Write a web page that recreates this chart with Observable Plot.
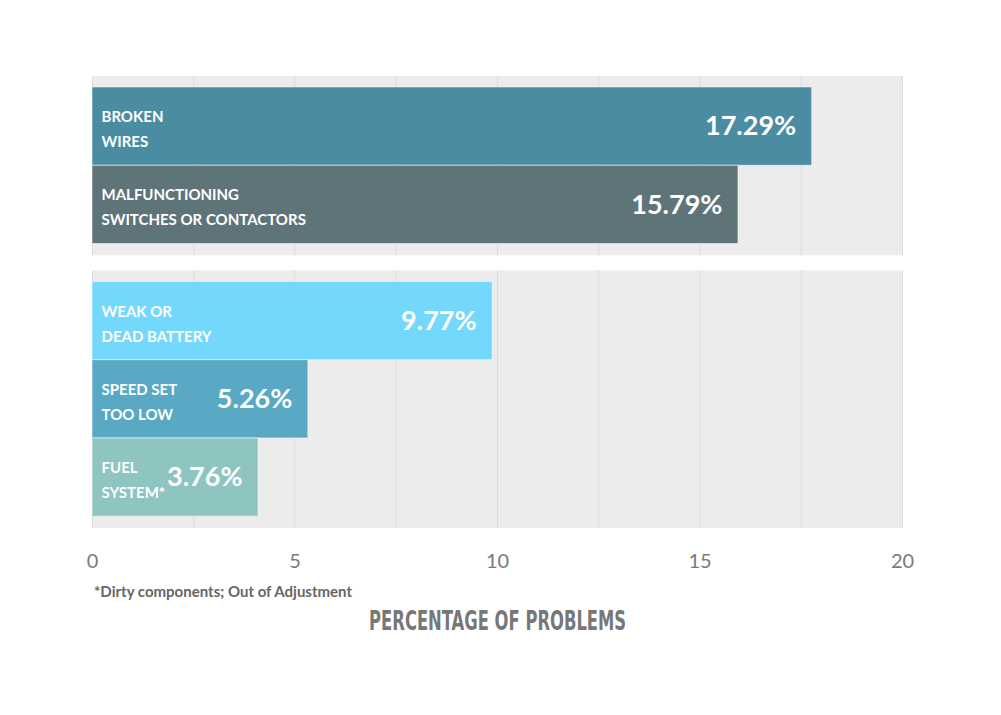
<!DOCTYPE html>
<html>
<head>
<meta charset="utf-8">
<script src="https://cdn.jsdelivr.net/npm/d3@7"></script>
<script src="https://cdn.jsdelivr.net/npm/@observablehq/plot@0.6"></script>
<style>
  html, body { margin: 0; padding: 0; background: #ffffff; }
  #wrap { position: relative; width: 1001px; height: 715px; overflow: hidden; background: #fff; }
  #chart svg { display: block; }
  #foot { position: absolute; left: 94px; top: 584px; font-family: Lato, sans-serif; font-weight: bold;
          font-size: 15px; line-height: 15px; color: #666; white-space: nowrap; }
  #title { position: absolute; left: 0; width: 995px; top: 607px; text-align: center; white-space: nowrap;
           font-family: "Liberation Sans Narrow", "DejaVu Sans Condensed", "Liberation Sans", sans-serif;
           font-weight: bold; font-size: 27px; line-height: 27px; color: #777; }
  #title span { display: inline-block; transform-origin: 50% 50%; }
</style>
</head>
<body>
<div id="wrap">
  <div id="chart"></div>
  <div id="foot">*Dirty components; Out of Adjustment</div>
  <div id="title"><span>PERCENTAGE OF PROBLEMS</span></div>
</div>
<script>
// ---- data ----
const categories = [
  "BROKEN\nWIRES",
  "MALFUNCTIONING\nSWITCHES OR CONTACTORS",
  "WEAK OR\nDEAD BATTERY",
  "SPEED SET\nTOO LOW",
  "FUEL\nSYSTEM*"
];
const panelGroup = [0, 0, 1, 1, 1];
const barLengths = [17.77, 15.95, 9.88, 5.33, 4.10];
const valueLabels = ["17.29%", "15.79%", "9.77%", "5.26%", "3.76%"];
const xTicks = [0, 5, 10, 15, 20];
const gridTicks = [0, 2.5, 5, 7.5, 10, 12.5, 15, 17.5, 20];

// ---- styles ----
const barColors = ["#4a8da3", "#5f7479", "#74d8fc", "#59a8c4", "#8fc5c1"];
const groupGap = 0.484;   // extra space between the two panels, in bar units
const padTop = 0.14, padBottom = 0.15;

// ---- layout rows ----
const rows = categories.map((c, i) => ({
  label: c,
  value: barLengths[i],
  text: valueLabels[i],
  color: barColors[i],
  top: i + panelGroup[i] * groupGap,
  group: panelGroup[i]
}));
const panels = d3.groups(rows, d => d.group).map(([g, rs]) => ({
  group: g,
  y1: d3.min(rs, d => d.top) - padTop,
  y2: d3.max(rs, d => d.top + 1) + padBottom
}));
const grid = panels.flatMap(p => gridTicks.map(t => ({x: t, y1: p.y1, y2: p.y2})));

const chart = Plot.plot({
  width: 1001,
  height: 575,
  marginLeft: 92,
  marginRight: 99,
  marginTop: 76,
  marginBottom: 47,
  style: {fontFamily: "Lato, sans-serif", background: "transparent"},
  x: {domain: [0, 20]},
  y: {domain: [-padTop, rows[rows.length - 1].top + 1 + padBottom], reverse: true, axis: null},
  marks: [
    Plot.rect(panels, {x1: 0, x2: 20, y1: "y1", y2: "y2", fill: "#ececec"}),
    Plot.ruleX(grid, {x: "x", y1: "y1", y2: "y2", stroke: "#dcdcdc", strokeWidth: 1}),
    Plot.rect(rows, {x1: 0, x2: "value", y1: "top", y2: d => d.top + 1, fill: "color",
      stroke: "#ffffff", strokeOpacity: 0.55, strokeWidth: 1}),
    Plot.text(rows, {x: 0, y: d => d.top + 0.5, text: "label", dx: 9, textAnchor: "start",
      lineAnchor: "middle", lineHeight: 1.67, fontSize: 15, fontWeight: "bold", fill: "#ffffff"}),
    Plot.text(rows, {x: "value", y: d => d.top + 0.5, text: "text", dx: -16, textAnchor: "end",
      lineAnchor: "middle", fontSize: 27, fontWeight: "bold", fill: "#ffffff"}),
    Plot.axisX({ticks: xTicks, tickSize: 0, tickPadding: 25, fontSize: 20, fill: "#7a7a7a",
      label: null, tickFormat: d => String(d)})
  ]
});
document.getElementById("chart").appendChild(chart);

// squeeze the title to the condensed width of the original
const span = document.querySelector("#title span");
const w = span.getBoundingClientRect().width;
if (w > 0) span.style.transform = `scaleX(${257 / w})`;
</script>
</body>
</html>
